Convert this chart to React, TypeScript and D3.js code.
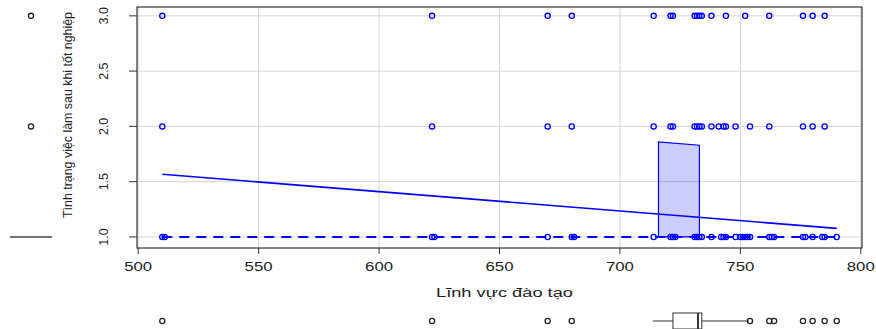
import * as d3 from 'd3';

// x values (Lĩnh vực đào tạo) of the points at each y level
const xAtY3 = [510, 622, 670, 680, 714, 721, 722, 731, 732, 733, 734, 738, 744, 752, 762, 776, 780, 785];
const xAtY2 = [510, 622, 670, 680, 714, 721, 722, 731, 732, 733, 734, 738, 741, 743, 744, 748, 754, 762, 776, 780, 785];
const xAtY1 = [
  510, 511, 622, 623, 670, 680, 681, 714, 721, 722, 723, 731, 732, 733, 734, 738, 742, 743, 744,
  748, 750, 751, 752, 753, 754, 762, 763, 764, 776, 777, 780, 784, 785, 790,
];

const xTicks = [500, 550, 600, 650, 700, 750, 800];
const yTicks = [1.0, 1.5, 2.0, 2.5, 3.0];

// least-squares fit
const lmIntercept = 2.46;
const lmSlope = -0.00175;
const lmRange = [510, 790];

// smoother (dashed) and its band
const smoothX = [510, 790];
const smoothY = [1, 1];
const bandX = [716, 733];
const bandTop = [1.86, 1.83];
const bandBottom = [1.0, 1.0];

// marginal boxplots
const xBox = { low: 713.7, q1: 722, median: 732.4, q3: 734, high: 753.5 };
const xOutliers = [510, 622, 670, 680, 754, 762, 764, 776, 780, 785, 790];
const yBox = { low: 1, q1: 1, median: 1, q3: 1, high: 1 };
const yOutliers = [2, 3];

const W = 876;
const H = 329;
const font = '"Liberation Sans", Arial, sans-serif';

export default function App() {
  const x = d3.scaleLinear().domain([499.5, 800.5]).range([137, 862]);
  const y = d3.scaleLinear().domain([0.9, 3.08]).range([248, 7]);
  const [x0, x1] = x.range();
  const [yb, yt] = y.range();

  const lmLine = d3.line<number>().x((d) => x(d)).y((d) => y(lmIntercept + lmSlope * d));
  const smoothLine = d3
    .line<number>()
    .x((d) => x(d))
    .y((_, i) => y(smoothY[i]));
  const bandPath =
    d3.line<[number, number]>().x((d) => x(d[0])).y((d) => y(d[1]))([
      [bandX[0], bandBottom[0]],
      [bandX[0], bandTop[0]],
      [bandX[1], bandTop[1]],
      [bandX[1], bandBottom[1]],
    ]) + 'Z';

  const pts: [number, number][] = [
    ...xAtY1.map((v) => [v, 1] as [number, number]),
    ...xAtY2.map((v) => [v, 2] as [number, number]),
    ...xAtY3.map((v) => [v, 3] as [number, number]),
  ];

  const bY = 321; // bottom boxplot centre
  const bH = 8;
  const lX = 31; // left boxplot centre
  const lW = 21;

  return (
    <svg width={W} height={H} style={{ position: 'absolute', left: 0, top: 0, background: '#fff' }}>
      {/* grid */}
      {xTicks.map((t) => (
        <line key={'gx' + t} x1={x(t)} x2={x(t)} y1={yt} y2={yb} stroke="#d3d3d3" strokeWidth={1} />
      ))}
      {yTicks.map((t) => (
        <line key={'gy' + t} x1={x0} x2={x1} y1={y(t)} y2={y(t)} stroke="#d3d3d3" strokeWidth={1} />
      ))}

      {/* band */}
      <path d={bandPath} fill="rgba(0,0,255,0.2)" stroke="blue" strokeWidth={1.2} />

      {/* points */}
      {pts.map(([px, py], i) => (
        <circle key={i} cx={x(px)} cy={y(py)} r={2.6} fill="none" stroke="blue" strokeWidth={1.3} />
      ))}

      {/* regression + smoother */}
      <path d={lmLine(lmRange) ?? ''} fill="none" stroke="blue" strokeWidth={1.6} />
      <path d={smoothLine(smoothX) ?? ''} fill="none" stroke="blue" strokeWidth={2} strokeDasharray="10,7" />

      {/* frame */}
      <rect x={x0} y={yt} width={x1 - x0} height={yb - yt} fill="none" stroke="#333" strokeWidth={1.2} />

      {/* x axis */}
      {xTicks.map((t) => (
        <g key={'xt' + t}>
          <line x1={x(t)} x2={x(t)} y1={yb} y2={yb + 6} stroke="#333" />
          <text
            x={x(t)}
            y={271}
            textAnchor="middle"
            fontFamily={font}
            fontSize={13}
            fill="#222"
            textLength={28}
            lengthAdjust="spacingAndGlyphs"
          >
            {t}
          </text>
        </g>
      ))}
      <text
        x={(x0 + x1) / 2 + 5}
        y={297}
        textAnchor="middle"
        fontFamily={font}
        fontSize={12.5}
        fill="#222"
        textLength={137}
        lengthAdjust="spacingAndGlyphs"
      >
        Lĩnh vực đào tạo
      </text>

      {/* y axis */}
      {yTicks.map((t) => (
        <g key={'yt' + t}>
          <line x1={x0 - 8} x2={x0} y1={y(t)} y2={y(t)} stroke="#333" />
          <text
            transform={`translate(108,${y(t)}) rotate(-90)`}
            textAnchor="middle"
            fontFamily={font}
            fontSize={12.5}
            fill="#222"
          >
            {d3.format('.1f')(t)}
          </text>
        </g>
      ))}
      <text
        transform={`translate(72,115) rotate(-90)`}
        textAnchor="middle"
        fontFamily={font}
        fontSize={12}
        fill="#222"
        textLength={206}
        lengthAdjust="spacingAndGlyphs"
      >
        Tình trạng việc làm sau khi tốt nghiệp
      </text>

      {/* bottom boxplot of x */}
      <line x1={x(xBox.low)} x2={x(xBox.q1)} y1={bY} y2={bY} stroke="#333" />
      <line x1={x(xBox.q3)} x2={x(xBox.high)} y1={bY} y2={bY} stroke="#333" />
      <rect
        x={x(xBox.q1)}
        y={bY - bH}
        width={x(xBox.q3) - x(xBox.q1)}
        height={bH * 2}
        fill="none"
        stroke="#333"
      />
      <line x1={x(xBox.median)} x2={x(xBox.median)} y1={bY - bH} y2={bY + bH} stroke="#333" strokeWidth={2} />
      {xOutliers.map((v, i) => (
        <circle key={'xo' + i} cx={x(v)} cy={bY} r={2.6} fill="none" stroke="#222" strokeWidth={1.3} />
      ))}

      {/* left boxplot of y */}
      <line x1={lX - lW} x2={lX + lW} y1={y(yBox.median)} y2={y(yBox.median)} stroke="#444" strokeWidth={1.5} />
      <line x1={lX} x2={lX} y1={y(yBox.low)} y2={y(yBox.high)} stroke="#444" />
      {yOutliers.map((v, i) => (
        <circle key={'yo' + i} cx={lX} cy={y(v)} r={2.6} fill="none" stroke="#222" strokeWidth={1.3} />
      ))}
    </svg>
  );
}
